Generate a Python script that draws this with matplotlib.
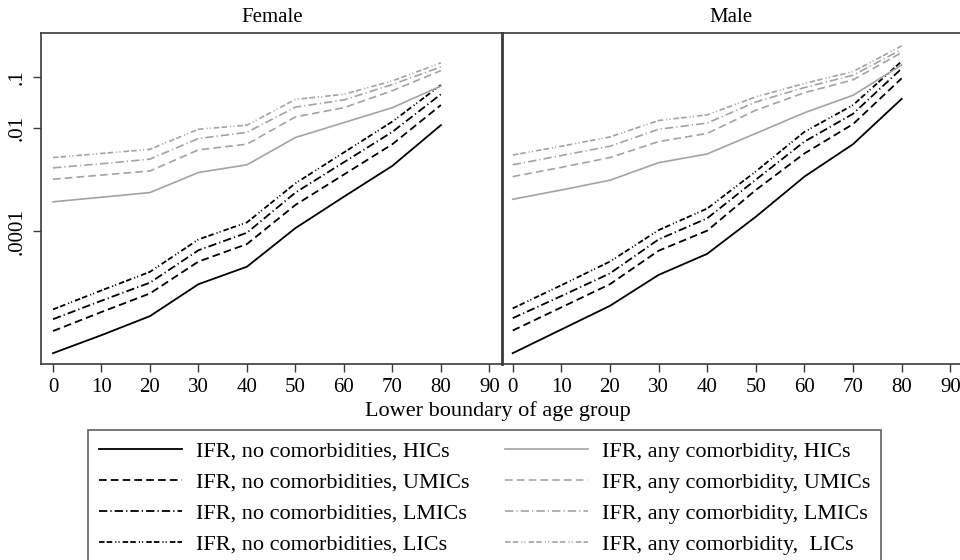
import numpy as np
import matplotlib
matplotlib.use("Agg")
import matplotlib.pyplot as plt

plt.rcParams['font.family'] = ['Liberation Serif', 'DejaVu Serif']
plt.rcParams['lines.scale_dashes'] = False

# age groups (lower boundary)
ages = [0, 10, 20, 30, 40, 50, 60, 70, 80]

# log10(IFR)
fem_no_hic = [-6.37, -6.02, -5.65, -5.03, -4.69, -3.94, -3.33, -2.73, -1.94]
fem_no_umic = [-5.94, -5.57, -5.21, -4.59, -4.25, -3.49, -2.90, -2.31, -1.55]
fem_no_lmic = [-5.71, -5.35, -5.00, -4.37, -4.03, -3.25, -2.66, -2.07, -1.34]
fem_no_lic = [-5.52, -5.15, -4.79, -4.16, -3.83, -3.07, -2.47, -1.87, -1.16]
fem_any_hic = [-3.43, -3.34, -3.25, -2.86, -2.71, -2.18, -1.89, -1.60, -1.18]
fem_any_umic = [-2.99, -2.91, -2.83, -2.42, -2.31, -1.78, -1.60, -1.27, -0.88]
fem_any_lmic = [-2.77, -2.69, -2.60, -2.20, -2.08, -1.59, -1.45, -1.15, -0.81]
fem_any_lic = [-2.57, -2.49, -2.41, -2.02, -1.94, -1.44, -1.34, -1.08, -0.73]

male_no_hic = [-6.37, -5.91, -5.45, -4.85, -4.44, -3.72, -2.94, -2.31, -1.43]
male_no_umic = [-5.93, -5.48, -5.03, -4.38, -3.99, -3.20, -2.49, -1.92, -1.03]
male_no_lmic = [-5.69, -5.26, -4.82, -4.16, -3.75, -3.00, -2.26, -1.72, -0.84]
male_no_lic = [-5.50, -5.05, -4.59, -3.98, -3.56, -2.84, -2.07, -1.55, -0.70]
male_any_hic = [-3.38, -3.20, -3.01, -2.67, -2.50, -2.10, -1.70, -1.36, -0.77]
male_any_umic = [-2.94, -2.76, -2.57, -2.26, -2.10, -1.65, -1.31, -1.06, -0.53]
male_any_lmic = [-2.71, -2.53, -2.35, -2.02, -1.90, -1.49, -1.21, -0.97, -0.47]
male_any_lic = [-2.52, -2.35, -2.17, -1.85, -1.74, -1.39, -1.13, -0.90, -0.40]

labels = ["IFR, no comorbidities, HICs", "IFR, no comorbidities, UMICs",
          "IFR, no comorbidities, LMICs", "IFR, no comorbidities, LICs",
          "IFR, any comorbidity, HICs", "IFR, any comorbidity, UMICs",
          "IFR, any comorbidity, LMICs", "IFR, any comorbidity,  LICs"]

ytick_vals = [0.0001, 0.01, 0.1]
ytick_labels = [".0001", ".01", ".1"]
xtick_vals = [0, 10, 20, 30, 40, 50, 60, 70, 80, 90]

dashes = ['-', (0, (5.5, 3)), (0, (6, 2.2, 0.9, 2.2)),
          (0, (4, 1.5, 4, 2.2, 0.8, 1.5, 0.8, 2.2))]
gray = '#a3a3a3'
styles = [(c, d, w) for c, w in [('black', 1.3), (gray, 1.2)] for d in dashes]

fig = plt.figure(figsize=(9.6, 5.6), dpi=100)
ax1 = fig.add_axes([41 / 960, 1 - 364 / 560, 461 / 960, 331 / 560])
ax2 = fig.add_axes([502 / 960, 1 - 364 / 560, 458 / 960, 331 / 560])

frame = '#3a3a3a'
for ax, series, xl in [
        (ax1, [fem_no_hic, fem_no_umic, fem_no_lmic, fem_no_lic,
               fem_any_hic, fem_any_umic, fem_any_lmic, fem_any_lic], (-2.47, 92.6)),
        (ax2, [male_no_hic, male_no_umic, male_no_lmic, male_no_lic,
               male_any_hic, male_any_umic, male_any_lmic, male_any_lic], (-2.2, 92.0))]:
    for s, (c, d, w), lab in zip(series, styles, labels):
        ax.plot(ages, 10 ** np.array(s), color=c, linestyle=d, lw=w, label=lab)
    ax.set_yscale('log')
    ax.set_ylim(10 ** -6.58, 10 ** -0.15)
    ax.set_xlim(*xl)
    ax.set_xticks(xtick_vals)
    ax.tick_params(axis='x', labelsize=15, length=6, width=1, color=frame, pad=4)
    ax.minorticks_off()
    for sp in ax.spines.values():
        sp.set_color(frame)
        sp.set_linewidth(1.2)
    ax.spines['right'].set_visible(False)

ax1.set_yticks(ytick_vals)
ax1.set_yticklabels(ytick_labels, rotation=90, va='center')
ax1.tick_params(axis='y', labelsize=15, length=6, width=1, color=frame, pad=4)
ax1.minorticks_off()
ax2.set_yticks([])
ax2.spines['left'].set_linewidth(2)

fig.text(272 / 960, 1 - 18 / 560, "Female", ha='center', va='center', fontsize=15)
fig.text(731 / 960, 1 - 18 / 560, "Male", ha='center', va='center', fontsize=15)
fig.text(498 / 960, 1 - 411 / 560, "Lower boundary of age group", ha='center',
         va='center', fontsize=16)

leg = fig.legend(handles=ax1.get_lines(), labels=labels, ncol=2,
                 loc='upper left', bbox_to_anchor=(88 / 960, 1 - 430 / 560),
                 borderaxespad=0, fontsize=16, frameon=True, fancybox=False,
                 edgecolor=frame, handlelength=3.75, handletextpad=0.6,
                 columnspacing=1.6, labelspacing=0.47, borderpad=0.5)
leg.get_frame().set_linewidth(1.2)

fig.savefig("out.png", dpi=100)
